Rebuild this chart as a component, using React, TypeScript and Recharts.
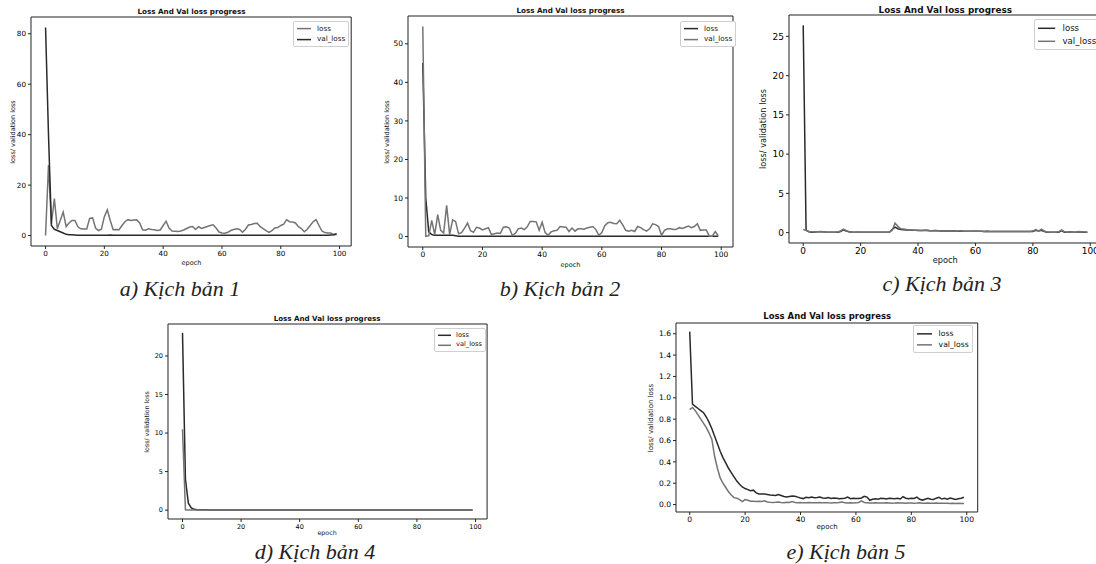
import React from "react";
import { LineChart, Line, XAxis, YAxis, ReferenceArea, Legend } from "recharts";

const FONT = '"DejaVu Sans", sans-serif';
const DARK = "#2a2a2a";
const GRAY = "#747474";

const xTicks = [0, 20, 40, 60, 80, 100];
const X_DOMAIN: [number, number] = [-4.95, 103.95];

// a) Kịch bản 1
const aLoss = [
  0, 28, 4.7, 14.7, 2.7, 6, 9.3, 3.6, 5, 6,
  6, 3.5, 2.7, 2.6, 2.6, 6.8, 7, 3, 2, 2.5,
  7.5, 10.2, 6, 2.3, 2.4, 2.3, 4, 5.5, 6.3, 6,
  6.2, 6.3, 5, 2.3, 2.1, 2.7, 2.4, 2.3, 2, 2.2,
  4, 5.7, 3, 1.8, 1.7, 1.6, 1.8, 2.2, 2.8, 3.4,
  3.6, 2.4, 3.5, 2.8, 3.2, 3.6, 4.0, 4.3, 3.0, 1.4,
  1.0, 0.9, 1.3, 2.0, 2.4, 2.7, 2.4, 1.3, 2.5, 4.2,
  4.4, 4.8, 4.9, 3.5, 2.8, 2.0, 1.3, 2.0, 3.0, 3.2,
  4.0, 4.5, 6.3, 5.5, 5.4, 5.0, 3.5, 2.8, 1.5, 2.5,
  4.0, 5.5, 6.3, 4.0, 1.8, 1.2, 1.0, 1.0, 0.4, 0.8,
];
const aVal = [
  82.5, 40, 4, 2.5, 2, 1.5, 1, 0.5, 0.3, 0.3,
  0.2, 0.1, 0.1, 0.1, 0.1, 0.1, 0.1, 0.1, 0.1, 0.1,
  0.1, 0.1, 0.2, 0.1, 0.1, 0.1, 0.1, 0.1, 0.1, 0.1,
  0.1, 0.1, 0.1, 0.1, 0.1, 0.1, 0.1, 0.1, 0.1, 0.1,
  0.1, 0.1, 0.1, 0.1, 0.1, 0.1, 0.1, 0.1, 0.1, 0.1,
  0.1, 0.1, 0.1, 0.1, 0.1, 0.1, 0.1, 0.1, 0.1, 0.1,
  0.1, 0.1, 0.1, 0.1, 0.1, 0.1, 0.1, 0.1, 0.1, 0.1,
  0.1, 0.1, 0.1, 0.1, 0.1, 0.1, 0.1, 0.1, 0.1, 0.1,
  0.1, 0.1, 0.1, 0.1, 0.1, 0.1, 0.1, 0.1, 0.1, 0.1,
  0.1, 0.1, 0.1, 0.1, 0.1, 0.1, 0.1, 0.2, 0.3, 0.5,
];

// b) Kịch bản 2
const bLoss = [
  45, 10, 1.2, 0.5, 0.3, 0.3, 0.3, 0.3, 0.3, 0.3,
  0.3, 0.2, 0.1, 0.1, 0.1, 0.1, 0.1, 0.1, 0.1, 0.1,
  0.1, 0.1, 0.1, 0.1, 0.1, 0.1, 0.1, 0.1, 0.1, 0.1,
  0.1, 0.1, 0.1, 0.1, 0.1, 0.1, 0.1, 0.1, 0.1, 0.1,
  0.1, 0.1, 0.1, 0.1, 0.1, 0.1, 0.1, 0.1, 0.1, 0.1,
  0.1, 0.1, 0.1, 0.1, 0.1, 0.1, 0.1, 0.1, 0.1, 0.1,
  0.1, 0.1, 0.1, 0.1, 0.1, 0.1, 0.1, 0.1, 0.1, 0.1,
  0.1, 0.1, 0.1, 0.1, 0.1, 0.1, 0.1, 0.1, 0.1, 0.1,
  0.1, 0.1, 0.1, 0.1, 0.1, 0.1, 0.1, 0.1, 0.1, 0.1,
  0.1, 0.1, 0.1, 0.1, 0.1, 0.1, 0.1, 0.1, 0.1, 0.1,
];
const bVal = [
  54.5, 0.1, 0.2, 4.2, 0.5, 5.7, 1.6, 0.9, 8.1, 0.5,
  4.3, 3.9, 0.7, 1, 2.2, 3.5, 1.5, 1.1, 2.4, 2.2,
  1.7, 2, 2.3, 0.5, 0.7, 0.9, 0.8, 2.4, 2.5, 2.2,
  0.3, 0.8, 2, 2.2, 1.8, 2.5, 3.9, 3.9, 3.8, 1.6,
  3.7, 1, 0.3, 1.2, 1.5, 1.6, 2.6, 2.5, 2.4, 1.3,
  2.2, 1.4, 2.0, 2.0, 1.9, 2.2, 2.4, 2.6, 1.8, 0.3,
  1.0, 2.8, 3.6, 3.7, 3.4, 3.3, 4.2, 3.0, 1.6, 1.4,
  1.6, 1.3, 2.6, 2.3, 1.8, 1.4, 2.0, 3.3, 3.1, 2.6,
  0.3, 1.6, 2.0, 2.0, 1.8, 1.9, 2.3, 2.1, 2.4, 2.7,
  2.3, 2.6, 3.3, 1.6, 1.7, 1.7, 0.1, 0.1, 1.3, 0.2,
];

// c) Kịch bản 3
const cLoss = [
  26.4, 0.3, 0.1, 0.05, 0.08, 0.1, 0.12, 0.1, 0.05, 0.05,
  0.05, 0.05, 0.05, 0.15, 0.35, 0.2, 0.1, 0.05, 0.05, 0.05,
  0.05, 0.05, 0.05, 0.05, 0.05, 0.05, 0.05, 0.05, 0.05, 0.05,
  0.05, 0.4, 0.7, 0.5, 0.4, 0.38, 0.35, 0.33, 0.3, 0.3,
  0.28, 0.27, 0.26, 0.28, 0.25, 0.24, 0.25, 0.23, 0.22, 0.22,
  0.21, 0.2, 0.2, 0.2, 0.19, 0.2, 0.18, 0.18, 0.18, 0.17,
  0.18, 0.17, 0.17, 0.16, 0.17, 0.16, 0.16, 0.16, 0.15, 0.16,
  0.15, 0.15, 0.15, 0.15, 0.15, 0.15, 0.14, 0.15, 0.14, 0.15,
  0.15, 0.3, 0.2, 0.3, 0.15, 0.05, 0.05, 0.05, 0.05, 0.05,
  0.25, 0.05, 0.05, 0.1, 0.05, 0.05, 0.1, 0.08, 0.05, 0.05,
];
const cVal = [
  0.4, 0.3, 0.15, 0.1, 0.1, 0.12, 0.15, 0.1, 0.05, 0.05,
  0.05, 0.05, 0.08, 0.2, 0.45, 0.25, 0.12, 0.05, 0.05, 0.08,
  0.05, 0.05, 0.05, 0.05, 0.05, 0.05, 0.05, 0.05, 0.05, 0.05,
  0.05, 0.3, 1.2, 0.8, 0.5, 0.45, 0.4, 0.35, 0.32, 0.3,
  0.3, 0.28, 0.3, 0.32, 0.28, 0.25, 0.3, 0.24, 0.22, 0.22,
  0.2, 0.2, 0.2, 0.19, 0.2, 0.22, 0.18, 0.18, 0.18, 0.17,
  0.2, 0.17, 0.17, 0.16, 0.17, 0.16, 0.16, 0.16, 0.15, 0.16,
  0.15, 0.15, 0.15, 0.15, 0.15, 0.15, 0.14, 0.15, 0.14, 0.15,
  0.2, 0.4, 0.2, 0.45, 0.2, 0.08, 0.05, 0.05, 0.05, 0.1,
  0.35, 0.1, 0.05, 0.12, 0.05, 0.05, 0.15, 0.1, 0.08, 0.05,
];

// d) Kịch bản 4
const dLoss = [
  23, 4, 0.9, 0.3, 0.1, 0.06, 0.05, 0.04, 0.04, 0.03,
  0.03, 0.03, 0.03, 0.03, 0.03, 0.03, 0.03, 0.03, 0.03, 0.03,
  0.03, 0.03, 0.03, 0.03, 0.03, 0.03, 0.03, 0.03, 0.03, 0.03,
  0.03, 0.03, 0.03, 0.03, 0.03, 0.03, 0.03, 0.03, 0.03, 0.03,
  0.03, 0.03, 0.03, 0.03, 0.03, 0.03, 0.03, 0.03, 0.03, 0.03,
  0.03, 0.03, 0.03, 0.03, 0.03, 0.03, 0.03, 0.03, 0.03, 0.03,
  0.03, 0.03, 0.03, 0.03, 0.03, 0.03, 0.03, 0.03, 0.03, 0.03,
  0.03, 0.03, 0.03, 0.03, 0.03, 0.03, 0.03, 0.03, 0.03, 0.03,
  0.03, 0.03, 0.03, 0.03, 0.03, 0.03, 0.03, 0.03, 0.03, 0.03,
  0.03, 0.03, 0.03, 0.03, 0.03, 0.03, 0.03, 0.03, 0.03, 0.03,
];
const dVal = [
  10.5, 0.05, 0.02, 0.02, 0.02, 0.02, 0.02, 0.02, 0.02, 0.02,
  0.02, 0.02, 0.02, 0.02, 0.02, 0.02, 0.02, 0.02, 0.02, 0.02,
  0.02, 0.02, 0.02, 0.02, 0.02, 0.02, 0.02, 0.02, 0.02, 0.02,
  0.02, 0.02, 0.02, 0.02, 0.02, 0.02, 0.02, 0.02, 0.02, 0.02,
  0.02, 0.02, 0.02, 0.02, 0.02, 0.02, 0.02, 0.02, 0.02, 0.02,
  0.02, 0.02, 0.02, 0.02, 0.02, 0.02, 0.02, 0.02, 0.02, 0.02,
  0.02, 0.02, 0.02, 0.02, 0.02, 0.02, 0.02, 0.02, 0.02, 0.02,
  0.02, 0.02, 0.02, 0.02, 0.02, 0.02, 0.02, 0.02, 0.02, 0.02,
  0.02, 0.02, 0.02, 0.02, 0.02, 0.02, 0.02, 0.02, 0.02, 0.02,
  0.02, 0.02, 0.02, 0.02, 0.02, 0.02, 0.02, 0.02, 0.02, 0.02,
];

// e) Kịch bản 5
const eLoss = [
  1.62, 0.94, 0.92, 0.9, 0.88, 0.86, 0.82, 0.77, 0.71, 0.64,
  0.57, 0.5, 0.44, 0.39, 0.34, 0.3, 0.26, 0.22, 0.19, 0.165,
  0.15, 0.14, 0.13, 0.135, 0.11, 0.1, 0.1, 0.098, 0.095, 0.09,
  0.088, 0.085, 0.095, 0.085, 0.075, 0.07, 0.075, 0.08, 0.078, 0.07,
  0.062, 0.056, 0.068, 0.065, 0.07, 0.064, 0.066, 0.07, 0.062, 0.06,
  0.066, 0.058, 0.062, 0.06, 0.055, 0.058, 0.06, 0.07, 0.055, 0.06,
  0.058, 0.056, 0.062, 0.078, 0.07, 0.04, 0.05, 0.055, 0.05, 0.058,
  0.056, 0.052, 0.06, 0.058, 0.055, 0.06, 0.052, 0.075, 0.06, 0.055,
  0.06, 0.058, 0.07, 0.05, 0.042, 0.05, 0.058, 0.05, 0.048, 0.06,
  0.068, 0.052, 0.058, 0.05, 0.062, 0.055, 0.048, 0.055, 0.06, 0.068,
];
const eVal = [
  0.89, 0.91, 0.88, 0.84, 0.8, 0.76, 0.72, 0.67, 0.61, 0.45,
  0.34, 0.25, 0.2, 0.16, 0.12, 0.09, 0.065, 0.06, 0.047, 0.028,
  0.047, 0.04, 0.032, 0.03, 0.028, 0.03, 0.028, 0.035, 0.025, 0.022,
  0.02, 0.022, 0.025, 0.02, 0.018, 0.022, 0.02, 0.028, 0.02, 0.018,
  0.02, 0.016, 0.018, 0.02, 0.018, 0.016, 0.018, 0.02, 0.016, 0.018,
  0.016, 0.015, 0.018, 0.016, 0.02, 0.024, 0.016, 0.014, 0.018, 0.015,
  0.016, 0.02, 0.035, 0.02, 0.016, 0.014, 0.015, 0.016, 0.014, 0.015,
  0.014, 0.016, 0.015, 0.013, 0.014, 0.016, 0.014, 0.015, 0.013, 0.014,
  0.015, 0.013, 0.014, 0.016, 0.013, 0.012, 0.014, 0.013, 0.012, 0.014,
  0.013, 0.012, 0.013, 0.012, 0.011, 0.012, 0.011, 0.012, 0.011, 0.011,
];

const toRows = (loss: number[], val: number[]) =>
  loss.map((v, i) => ({ epoch: i, loss: v, val_loss: val[i] }));

type Fonts = { title: number; tick: number; label: number; legend: number };

type PanelProps = {
  frame: [number, number, number, number]; // x0, x1, y0, y1 on the page
  yDomain: [number, number];
  yTicks: number[];
  yFmt?: (v: number) => string;
  loss: number[];
  val: number[];
  lossColor: string;
  valColor: string;
  fonts: Fonts;
  titleY: number;
  ylabelX: number;
  epochY: number;
  legendAt: [number, number];
};

function LegendBox({ payload, fs }: { payload?: any[]; fs: number }) {
  return (
    <div
      style={{
        background: "#fff",
        border: "1px solid #cfcfcf",
        borderRadius: 2,
        padding: `${fs * 0.25}px ${fs * 0.4}px`,
        fontFamily: FONT,
        fontSize: fs,
        lineHeight: `${fs * 1.45}px`,
        color: "#111",
      }}
    >
      {(payload || []).map((p) => (
        <div key={p.value} style={{ display: "flex", alignItems: "center", whiteSpace: "nowrap" }}>
          <svg width={fs * 2} height={fs} style={{ marginRight: fs * 0.8 }}>
            <line x1={0} x2={fs * 2} y1={fs / 2} y2={fs / 2} stroke={p.color} strokeWidth={1.5} />
          </svg>
          <span>{p.value}</span>
        </div>
      ))}
    </div>
  );
}

function Panel(p: PanelProps) {
  const [x0, x1, y0, y1] = p.frame;
  const left = x0 - 45;
  const top = y0 - 25;
  const width = x1 - x0 + 55;
  const height = y1 - y0 + 50;
  const rows = toRows(p.loss, p.val);
  const tickStyle = { fontSize: p.fonts.tick, fill: "#000", fontFamily: FONT };

  return (
    <>
      <div style={{ position: "absolute", left, top, width, height }}>
        <LineChart width={width} height={height} data={rows} margin={{ top: 25, right: 10, bottom: 0, left: 15 }}>
          <XAxis
            dataKey="epoch"
            type="number"
            domain={X_DOMAIN}
            ticks={xTicks}
            interval={0}
            allowDataOverflow
            axisLine={false}
            tickSize={3}
            tickLine={{ stroke: "#222" }}
            tick={tickStyle}
            height={25}
          />
          <YAxis
            type="number"
            domain={p.yDomain}
            ticks={p.yTicks}
            interval={0}
            allowDataOverflow
            axisLine={false}
            tickSize={3}
            tickLine={{ stroke: "#222" }}
            tick={tickStyle}
            tickFormatter={p.yFmt}
            width={30}
          />
          <ReferenceArea
            x1={X_DOMAIN[0]}
            x2={X_DOMAIN[1]}
            y1={p.yDomain[0]}
            y2={p.yDomain[1]}
            fill="none"
            fillOpacity={0}
            stroke="#222"
            strokeWidth={1}
            ifOverflow="visible"
          />
          <Line type="linear" dataKey="loss" name="loss" stroke={p.lossColor} strokeWidth={1.5} dot={false} isAnimationActive={false} />
          <Line type="linear" dataKey="val_loss" name="val_loss" stroke={p.valColor} strokeWidth={1.5} dot={false} isAnimationActive={false} />
          <Legend
            layout="vertical"
            align="center"
            verticalAlign="middle"
            wrapperStyle={{ left: p.legendAt[0] - left, top: p.legendAt[1] - top, width: "auto" }}
            content={(props: any) => <LegendBox payload={props.payload} fs={p.fonts.legend} />}
          />
        </LineChart>
      </div>
      <div
        style={{
          position: "absolute",
          left: x0,
          width: x1 - x0,
          top: p.titleY - p.fonts.title / 2,
          lineHeight: `${p.fonts.title}px`,
          fontSize: p.fonts.title,
          fontWeight: "bold",
          fontFamily: FONT,
          textAlign: "center",
          color: "#111",
          whiteSpace: "nowrap",
        }}
      >
        Loss And Val loss progress
      </div>
      <div
        style={{
          position: "absolute",
          left: x0,
          width: x1 - x0,
          top: p.epochY - p.fonts.label / 2,
          lineHeight: `${p.fonts.label}px`,
          fontSize: p.fonts.label,
          fontFamily: FONT,
          textAlign: "center",
          color: "#111",
        }}
      >
        epoch
      </div>
      <div
        style={{
          position: "absolute",
          left: p.ylabelX,
          top: (y0 + y1) / 2,
          transform: "translate(-50%, -50%) rotate(-90deg)",
          fontSize: p.fonts.label,
          lineHeight: `${p.fonts.label}px`,
          fontFamily: FONT,
          color: "#111",
          whiteSpace: "nowrap",
        }}
      >
        loss/ validation loss
      </div>
    </>
  );
}

function Caption({ text, cx, cy }: { text: string; cx: number; cy: number }) {
  return (
    <div
      style={{
        position: "absolute",
        left: cx - 100,
        width: 200,
        top: cy - 12,
        lineHeight: "24px",
        fontSize: 22,
        fontStyle: "italic",
        fontFamily: '"Liberation Serif", "DejaVu Serif", serif',
        textAlign: "center",
        color: "#222",
      }}
    >
      {text}
    </div>
  );
}

export default function App() {
  return (
    <div
      style={{
        position: "absolute",
        left: 0,
        top: 0,
        width: 1096,
        height: 564,
        overflow: "hidden",
        background: "#fff",
      }}
    >
      <Panel
        frame={[31.4, 351.6, 17, 246]}
        yDomain={[-4.13, 86.63]}
        yTicks={[0, 20, 40, 60, 80]}
        loss={aLoss}
        val={aVal}
        lossColor={GRAY}
        valColor={DARK}
        fonts={{ title: 7.2, tick: 7.2, label: 6.5, legend: 7.2 }}
        titleY={12}
        ylabelX={13}
        epochY={263}
        legendAt={[293, 21]}
      />
      <Panel
        frame={[408, 733, 16, 247]}
        yDomain={[-2.72, 57.22]}
        yTicks={[0, 10, 20, 30, 40, 50]}
        loss={bLoss}
        val={bVal}
        lossColor={DARK}
        valColor={GRAY}
        fonts={{ title: 7.2, tick: 7.5, label: 6.5, legend: 7.2 }}
        titleY={10.5}
        ylabelX={387}
        epochY={265}
        legendAt={[680, 21]}
      />
      <Panel
        frame={[789, 1101.6, 15, 243]}
        yDomain={[-1.32, 27.72]}
        yTicks={[0, 5, 10, 15, 20, 25]}
        loss={cLoss}
        val={cVal}
        lossColor={DARK}
        valColor={GRAY}
        fonts={{ title: 8.9, tick: 9, label: 8.2, legend: 8.6 }}
        titleY={10}
        ylabelX={763}
        epochY={260}
        legendAt={[1034, 19]}
      />
      <Panel
        frame={[167.5, 486.6, 324, 519]}
        yDomain={[-1.15, 24.15]}
        yTicks={[0, 5, 10, 15, 20]}
        loss={dLoss}
        val={dVal}
        lossColor={DARK}
        valColor={GRAY}
        fonts={{ title: 7.1, tick: 6.5, label: 6.3, legend: 6.6 }}
        titleY={319}
        ylabelX={147}
        epochY={533}
        legendAt={[434, 328]}
      />
      <Panel
        frame={[676.3, 978, 323, 512]}
        yDomain={[-0.0695, 1.7005]}
        yTicks={[0, 0.2, 0.4, 0.6, 0.8, 1.0, 1.2, 1.4, 1.6]}
        yFmt={(v) => v.toFixed(1)}
        loss={eLoss}
        val={eVal}
        lossColor={DARK}
        valColor={GRAY}
        fonts={{ title: 8.5, tick: 7.6, label: 7, legend: 7.7 }}
        titleY={316.5}
        ylabelX={651}
        epochY={527}
        legendAt={[913, 325]}
      />
      <Caption text="a) Kịch bản 1" cx={180} cy={289} />
      <Caption text="b) Kịch bản 2" cx={560} cy={289} />
      <Caption text="c) Kịch bản 3" cx={942} cy={284} />
      <Caption text="d) Kịch bản 4" cx={315} cy={552} />
      <Caption text="e) Kịch bản 5" cx={846} cy={552} />
    </div>
  );
}
